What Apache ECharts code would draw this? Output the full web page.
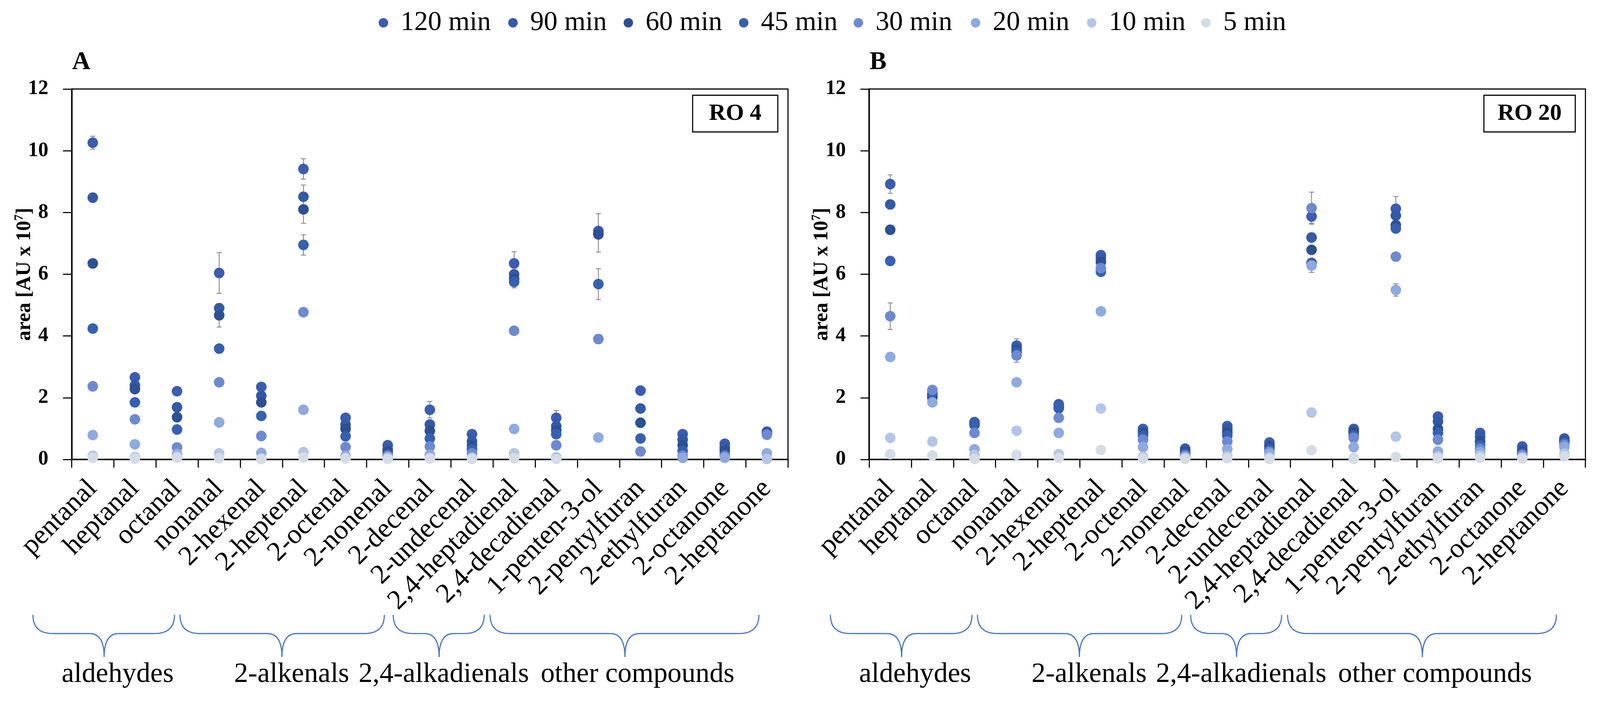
<!DOCTYPE html>
<html>
<head>
<meta charset="utf-8">
<title>RO 4 / RO 20</title>
<script src="https://cdn.jsdelivr.net/npm/echarts@6/dist/echarts.min.js"></script>
<style>
    html, body { margin: 0; padding: 0; background: #fff; overflow: hidden; }
    #chart { width: 100vw; height: 100vh; }
</style>
</head>
<body>
<div id="chart"></div>
<script>
// categories (x axis)
const categories = ['pentanal', 'heptanal', 'octanal', 'nonanal', '2-hexenal', '2-heptenal', '2-octenal',
    '2-nonenal', '2-decenal', '2-undecenal', '2,4-heptadienal', '2,4-decadienal', '1-penten-3-ol',
    '2-pentylfuran', '2-ethylfuran', '2-octanone', '2-heptanone'];

const seriesNames = ['120 min', '90 min', '60 min', '45 min', '30 min', '20 min', '10 min', '5 min'];
const seriesColors = ['#3b5cb0', '#3459a6', '#2d5092', '#3661b0', '#6d8ad0', '#8eaadf', '#b4c6e7', '#d6dce6'];

const yTicks = [0, 2, 4, 6, 8, 10, 12];

// panel A - RO 4 (area, AU x 10^7)
const ro4Min120 = [10.26, 2.66, 2.21, 6.04, 2.35, 9.41, 1.35, 0.46, 1.61, 0.82, 6.35, 1.35, 7.34, 2.23, 0.82, 0.51, 0.90];
const ro4Min90 = [8.48, 2.40, 1.69, 4.90, 2.06, 8.51, 1.13, 0.33, 1.13, 0.59, 6.00, 1.08, 7.40, 1.65, 0.64, 0.39, 0.88];
const ro4Min60 = [6.35, 2.28, 1.37, 4.67, 1.85, 8.10, 0.99, 0.24, 0.93, 0.46, 5.85, 0.95, 7.29, 1.19, 0.46, 0.28, 0.86];
const ro4Min45 = [4.24, 1.85, 0.97, 3.59, 1.41, 6.95, 0.75, 0.15, 0.68, 0.33, 5.75, 0.82, 5.68, 0.68, 0.28, 0.15, 0.84];
const ro4Min30 = [2.37, 1.30, 0.39, 2.50, 0.76, 4.77, 0.40, 0.12, 0.42, 0.20, 4.17, 0.46, 3.90, 0.26, 0.12, 0.10, 0.80];
const ro4Min20 = [0.79, 0.49, 0.18, 1.20, 0.21, 1.61, 0.12, 0.08, 0.15, 0.08, 0.99, 0.06, 0.71, '-', 0.05, 0.05, 0.20];
const ro4Min10 = [0.12, 0.08, 0.10, 0.20, 0.02, 0.24, 0.05, 0.03, 0.05, 0.04, 0.20, 0.03, '-', '-', '-', '-', 0.02];
const ro4Min5 = [0.05, 0.03, 0.05, 0.04, 0.02, 0.06, 0.03, 0.02, 0.03, 0.02, 0.04, 0.02, '-', '-', '-', '-', '-'];

// panel B - RO 20
const ro20Min120 = [8.92, 2.10, 1.21, 3.69, 1.79, 6.62, 0.99, 0.35, 1.08, 0.55, 7.87, 0.99, 8.12, 1.39, 0.86, 0.42, 0.68];
const ro20Min90 = [8.26, 2.05, 1.17, 3.60, 1.72, 6.53, 0.90, 0.28, 0.99, 0.46, 7.19, 0.93, 7.90, 1.23, 0.73, 0.31, 0.62];
const ro20Min60 = [7.44, 2.01, 1.12, 3.53, 1.66, 6.40, 0.85, 0.24, 0.88, 0.40, 6.79, 0.88, 7.59, 0.99, 0.59, 0.25, 0.59];
const ro20Min45 = [6.43, 2.15, 1.15, 3.47, 1.70, 6.08, 0.77, 0.19, 0.77, 0.33, 6.37, 0.77, 7.48, 0.86, 0.46, 0.19, 0.55];
const ro20Min30 = [4.64, 2.25, 0.86, 3.37, 1.35, 6.20, 0.64, 0.13, 0.58, 0.25, 8.14, 0.70, 6.57, 0.64, 0.35, 0.15, 0.48];
const ro20Min20 = [3.32, 1.85, 0.33, 2.50, 0.86, 4.80, 0.40, 0.08, 0.33, 0.19, 6.28, 0.40, 5.49, 0.26, 0.24, 0.09, 0.40];
const ro20Min10 = [0.70, 0.58, 0.15, 0.93, 0.17, 1.65, 0.09, 0.04, 0.11, 0.06, 1.52, 0.04, 0.74, 0.10, 0.13, 0.05, 0.19];
const ro20Min5 = [0.17, 0.13, 0.02, 0.15, 0.05, 0.31, 0.03, 0.02, 0.04, 0.02, 0.30, 0.02, 0.08, 0.04, 0.05, 0.03, 0.10];

// error bars: category index, mean, sd
const ro4ErrCat = [0, 3, 3, 5, 5, 5, 5, 8, 10, 10, 11, 12, 12];
const ro4ErrMean = [10.26, 6.04, 4.67, 9.41, 8.51, 8.10, 6.95, 1.61, 6.35, 5.75, 1.35, 7.34, 5.68];
const ro4ErrSd = [0.21, 0.66, 0.38, 0.33, 0.38, 0.45, 0.33, 0.27, 0.38, 0.19, 0.24, 0.62, 0.50];

const ro20ErrCat = [0, 0, 3, 10, 10, 10, 12, 12];
const ro20ErrMean = [8.92, 4.64, 3.53, 8.14, 7.87, 6.28, 8.12, 5.49];
const ro20ErrSd = [0.30, 0.43, 0.38, 0.52, 0.22, 0.22, 0.40, 0.20];

// compound groups under the axis (positions in category units)
const groupNames = ['aldehydes', '2-alkenals', '2,4-alkadienals', 'other compounds'];
const groupFrom = [-1.42, 2.07, 7.13, 9.43];
const groupTo = [1.94, 6.92, 9.29, 15.81];
const groupTip = [0.27, 4.49, 8.22, 12.63];
const groupText = [0.59, 4.72, 8.33, 12.93];

// legend symbol centres on the 4396 px wide page
const legendAt = [1077, 1433, 1750, 2067, 2382, 2704, 3023, 3337];

const FONT = 'Liberation Serif';

const panels = [
    {
        letter: 'A', tag: 'RO 4',
        values: [ro4Min120, ro4Min90, ro4Min60, ro4Min45, ro4Min30, ro4Min20, ro4Min10, ro4Min5],
        errCat: ro4ErrCat, errMean: ro4ErrMean, errSd: ro4ErrSd
    },
    {
        letter: 'B', tag: 'RO 20',
        values: [ro20Min120, ro20Min90, ro20Min60, ro20Min45, ro20Min30, ro20Min20, ro20Min10, ro20Min5],
        errCat: ro20ErrCat, errMean: ro20ErrMean, errSd: ro20ErrSd
    }
];

// layout is designed on a 4396 x 1806 page and scaled to the real viewport
const dom = document.getElementById('chart');
const sx = dom.clientWidth / 4396;
const sy = dom.clientHeight / 1806;
const fs = Math.min(sx, sy);
const X = function (v) { return v * sx; };
const Y = function (v) { return v * sy; };
const F = function (v) { return v * fs; };

const gridLeft = [197, 2388];
const gridTop = 228;
const gridWidth = 1968;
const gridHeight = 949;

const chart = echarts.init(dom);

const grids = [], xAxes = [], yAxes = [], series = [];

panels.forEach(function (panel, p) {
    grids.push({
        left: X(gridLeft[p]),
        top: Y(gridTop),
        width: X(gridWidth),
        height: Y(gridHeight),
        show: true,
        borderColor: '#000',
        borderWidth: F(3),
        backgroundColor: 'transparent'
    });
    xAxes.push({
        type: 'category',
        gridIndex: p,
        data: categories,
        boundaryGap: true,
        axisLine: {lineStyle: {color: '#000', width: F(4)}},
        axisTick: {show: true, inside: false, length: Y(21), interval: 0, lineStyle: {color: '#000', width: F(3)}},
        axisLabel: {
            interval: 0,
            rotate: 45,
            margin: Y(64),
            color: '#000',
            fontFamily: FONT,
            fontSize: F(76)
        },
        splitLine: {show: false}
    });
    yAxes.push({
        type: 'value',
        gridIndex: p,
        min: yTicks[0],
        max: yTicks[yTicks.length - 1],
        interval: 2,
        name: '{b|area [AU x 10}{s|7}{b|]}',
        nameLocation: 'middle',
        nameGap: X(97),
        nameRotate: 90,
        nameMoveOverlap: false,
        nameTextStyle: {
            rich: {
                b: {fontFamily: FONT, fontSize: F(56), fontWeight: 'bold', color: '#000', lineHeight: F(64)},
                s: {fontFamily: FONT, fontSize: F(34), fontWeight: 'bold', color: '#000', lineHeight: F(64), verticalAlign: 'top'}
            }
        },
        axisLine: {show: true, lineStyle: {color: '#000', width: F(4)}},
        axisTick: {show: true, inside: false, length: X(24), lineStyle: {color: '#000', width: F(3)}},
        axisLabel: {
            margin: X(64),
            color: '#000',
            fontFamily: FONT,
            fontSize: F(56),
            fontWeight: 'bold'
        },
        splitLine: {show: false}
    });

    // error bars below the dots
    const errData = panel.errCat.map(function (c, i) {
        return [c, panel.errMean[i] - panel.errSd[i], panel.errMean[i] + panel.errSd[i]];
    });
    series.push({
        type: 'custom',
        xAxisIndex: p,
        yAxisIndex: p,
        silent: true,
        z: 1,
        encode: {x: 0, y: [1, 2]},
        renderItem: function (params, api) {
            const lo = api.coord([api.value(0), api.value(1)]);
            const hi = api.coord([api.value(0), api.value(2)]);
            const cap = X(7);
            const st = {stroke: '#8c8c8c', lineWidth: F(2.5)};
            return {
                type: 'group',
                children: [
                    {type: 'line', shape: {x1: lo[0], y1: lo[1], x2: hi[0], y2: hi[1]}, style: st},
                    {type: 'line', shape: {x1: lo[0] - cap, y1: lo[1], x2: lo[0] + cap, y2: lo[1]}, style: st},
                    {type: 'line', shape: {x1: hi[0] - cap, y1: hi[1], x2: hi[0] + cap, y2: hi[1]}, style: st}
                ]
            };
        },
        data: errData
    });

    panel.values.forEach(function (vals, k) {
        series.push({
            name: seriesNames[k],
            type: 'scatter',
            xAxisIndex: p,
            yAxisIndex: p,
            symbol: 'circle',
            symbolSize: 28 * (sx + sy) / 2,
            z: 2,
            itemStyle: {color: seriesColors[k], opacity: 1},
            data: vals
        });
    });
});

// one legend per item so every entry sits where it does in the original
const legends = seriesNames.map(function (name, k) {
    return {
        data: [name],
        icon: 'circle',
        left: X(legendAt[k] - 42),
        top: Y(17),
        itemWidth: X(84),
        itemHeight: F(26),
        textStyle: {
            color: '#000',
            fontFamily: FONT,
            fontSize: F(75),
            lineHeight: F(78)
        }
    };
});

const option = {
    backgroundColor: '#fff',
    animation: false,
    legend: legends,
    grid: grids,
    xAxis: xAxes,
    yAxis: yAxes,
    series: series
};

chart.setOption(option);

// curly brace made of quadratic curves and straight lines
function braceParts(x0, x1, xt) {
    const yT = Y(1575), yM = Y(1623), yB = Y(1683), r = X(55), r2 = X(40);
    const st = {fill: 'none', stroke: '#4472c4', lineWidth: F(3)};
    return [
        {type: 'bezierCurve', shape: {x1: x0, y1: yT, cpx1: x0, cpy1: yM, x2: x0 + r, y2: yM}, style: st},
        {type: 'line', shape: {x1: x0 + r, y1: yM, x2: xt - r2, y2: yM}, style: st},
        {type: 'bezierCurve', shape: {x1: xt - r2, y1: yM, cpx1: xt, cpy1: yM, x2: xt, y2: yB}, style: st},
        {type: 'bezierCurve', shape: {x1: xt, y1: yB, cpx1: xt, cpy1: yM, x2: xt + r2, y2: yM}, style: st},
        {type: 'line', shape: {x1: xt + r2, y1: yM, x2: x1 - r, y2: yM}, style: st},
        {type: 'bezierCurve', shape: {x1: x1 - r, y1: yM, cpx1: x1, cpy1: yM, x2: x1, y2: yT}, style: st}
    ];
}

// panel letters, RO tags and group braces
function buildGraphics() {
    const els = [];
    panels.forEach(function (panel, p) {
        const left = gridLeft[p];
        const right = left + gridWidth;
        els.push({
            type: 'text',
            style: {text: panel.letter, x: X(left + 1), y: Y(160), align: 'left', verticalAlign: 'middle',
                fontFamily: FONT, fontSize: F(70), fontWeight: 'bold', fill: '#000'}
        });
        const boxW = panel.tag.length > 4 ? 251 : 234;
        const boxX = right - 28 - boxW;
        els.push({
            type: 'rect',
            shape: {x: X(boxX), y: Y(244), width: X(boxW), height: Y(94)},
            style: {fill: '#fff', stroke: '#000', lineWidth: F(3)}
        });
        els.push({
            type: 'text',
            style: {text: panel.tag, x: X(boxX + boxW / 2), y: Y(292), align: 'center', verticalAlign: 'middle',
                fontFamily: FONT, fontSize: F(64), fontWeight: 'bold', fill: '#000'}
        });

        const c0 = chart.convertToPixel({xAxisIndex: p}, 0);
        const band = chart.convertToPixel({xAxisIndex: p}, 1) - c0;
        const px = function (u) { return c0 + u * band; };
        groupNames.forEach(function (g, i) {
            els.push({
                type: 'group',
                children: braceParts(px(groupFrom[i]), px(groupTo[i]), px(groupTip[i]))
            });
            els.push({
                type: 'text',
                style: {text: g, x: px(groupText[i]), y: Y(1728), align: 'center', verticalAlign: 'middle',
                    fontFamily: FONT, fontSize: F(77), fill: '#000'}
            });
        });
    });
    return els;
}

chart.setOption({graphic: buildGraphics()});

window.onresize = function () {
    chart.resize();
};
</script>
</body>
</html>
